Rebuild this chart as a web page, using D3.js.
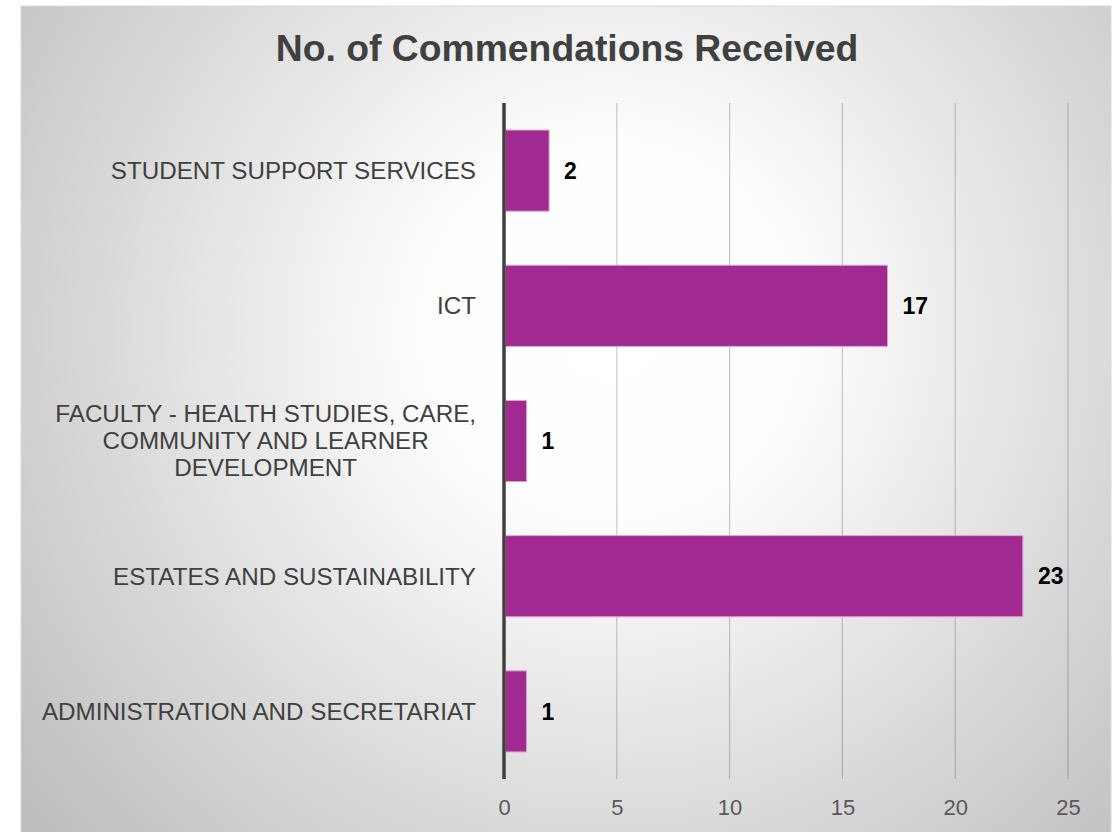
<!DOCTYPE html>
<html>
<head>
<meta charset="utf-8">
<script src="https://cdn.jsdelivr.net/npm/d3@7"></script>
<style>
  body { margin: 0; background: #fff; }
  svg { display: block; font-family: "Liberation Sans", Arial, sans-serif; }
</style>
</head>
<body>
<script>
// chart data
var categories = [
  ['STUDENT SUPPORT SERVICES'],
  ['ICT'],
  ['FACULTY - HEALTH STUDIES, CARE,', 'COMMUNITY AND LEARNER', 'DEVELOPMENT'],
  ['ESTATES AND SUSTAINABILITY'],
  ['ADMINISTRATION AND SECRETARIAT']
];
var counts = [2, 17, 1, 23, 1];
var xTicks = [0, 5, 10, 15, 20, 25];
var chartTitle = 'No. of Commendations Received';

var svgWidth = 1115;
var svgHeight = 832;

var margin = {top: 103, bottom: 53, left: 504, right: 47};
var chartWidth = svgWidth - margin.left - margin.right;
var chartHeight = svgHeight - margin.top - margin.bottom;

var labelFont = 24.2;

var svg = d3.select('body')
  .append('svg')
  .attr('width', svgWidth)
  .attr('height', svgHeight);

// radial background like the office chart fill
var defs = svg.append('defs');
var grad = defs.append('radialGradient')
  .attr('id', 'bg')
  .attr('gradientUnits', 'userSpaceOnUse')
  .attr('cx', 610).attr('cy', 330).attr('r', 760);
grad.append('stop').attr('offset', '0%').attr('stop-color', '#ffffff');
grad.append('stop').attr('offset', '25%').attr('stop-color', '#fdfdfd');
grad.append('stop').attr('offset', '100%').attr('stop-color', '#bdbdbd');

svg.append('rect')
  .attr('x', 21).attr('y', 6)
  .attr('width', 1090).attr('height', 840)
  .attr('fill', 'url(#bg)')
  .attr('stroke', '#d9d9d9')
  .attr('stroke-width', 1);

svg.append('text')
  .attr('x', 567)
  .attr('y', 61)
  .attr('text-anchor', 'middle')
  .style('font-size', '37.3px')
  .style('font-weight', 'bold')
  .style('fill', '#404040')
  .text(chartTitle);

var chart = svg.append('g')
  .attr('transform', 'translate(' + margin.left + ',' + margin.top + ')');

var xScale = d3.scaleLinear().domain([0, 25]).range([0, chartWidth]);
var yScale = d3.scaleBand()
  .domain(d3.range(categories.length))
  .range([0, chartHeight])
  .paddingInner(0.4)
  .paddingOuter(0.2);

// vertical gridlines
chart.selectAll('.grid')
  .data(xTicks.slice(1))
  .enter()
  .append('line')
  .attr('x1', function(d) { return xScale(d); })
  .attr('x2', function(d) { return xScale(d); })
  .attr('y1', 0)
  .attr('y2', chartHeight)
  .attr('stroke', 'rgba(0,0,0,0.2)')
  .attr('stroke-width', 1.2);

// bars
chart.selectAll('.bar')
  .data(counts)
  .enter()
  .append('rect')
  .attr('x', xScale(0) + 1.5)
  .attr('y', function(d, i) { return yScale(i); })
  .attr('width', function(d) { return xScale(d) - xScale(0) - 1.5; })
  .attr('height', yScale.bandwidth())
  .attr('fill', '#a02a8f')
  .attr('stroke', '#dba6d2')
  .attr('stroke-width', 1);

// value labels
chart.selectAll('.value')
  .data(counts)
  .enter()
  .append('text')
  .attr('x', function(d) { return xScale(d) + 15; })
  .attr('y', function(d, i) { return yScale(i) + yScale.bandwidth() / 2; })
  .attr('dy', '0.36em')
  .style('font-size', '23px')
  .style('font-weight', 'bold')
  .style('fill', '#000')
  .text(function(d) { return d; });

// bottom axis labels (no tick marks, no domain line)
var bottomAxis = d3.axisBottom(xScale).tickValues(xTicks).tickSize(0).tickPadding(20);
var xAxisG = chart.append('g')
  .attr('transform', 'translate(0,' + chartHeight + ')')
  .call(bottomAxis);
xAxisG.select('.domain').remove();
xAxisG.selectAll('text')
  .style('font-size', '22px')
  .style('font-family', '"Liberation Sans", Arial, sans-serif')
  .style('fill', '#595959');

// category labels
var catG = chart.selectAll('.cat')
  .data(categories)
  .enter()
  .append('text')
  .attr('text-anchor', 'middle')
  .style('font-size', labelFont + 'px')
  .style('fill', '#404040');

catG.each(function(lines, i) {
  var el = d3.select(this);
  var widest = 0;
  // measure to right-align the block, lines centred inside it
  var tmp = chart.append('text').style('font-size', labelFont + 'px');
  lines.forEach(function(l) {
    tmp.text(l);
    widest = Math.max(widest, tmp.node().getComputedTextLength());
  });
  tmp.remove();
  var cx = -28 - widest / 2;
  var lh = 27;
  var cy = yScale(i) + yScale.bandwidth() / 2 - (lines.length - 1) * lh / 2;
  lines.forEach(function(l, j) {
    el.append('tspan')
      .attr('x', cx)
      .attr('y', cy + j * lh)
      .attr('dy', '0.35em')
      .text(l);
  });
});

// left axis line
chart.append('line')
  .attr('x1', xScale(0)).attr('x2', xScale(0))
  .attr('y1', 0).attr('y2', chartHeight)
  .attr('stroke', '#404040')
  .attr('stroke-width', 3.5);
</script>
</body>
</html>
